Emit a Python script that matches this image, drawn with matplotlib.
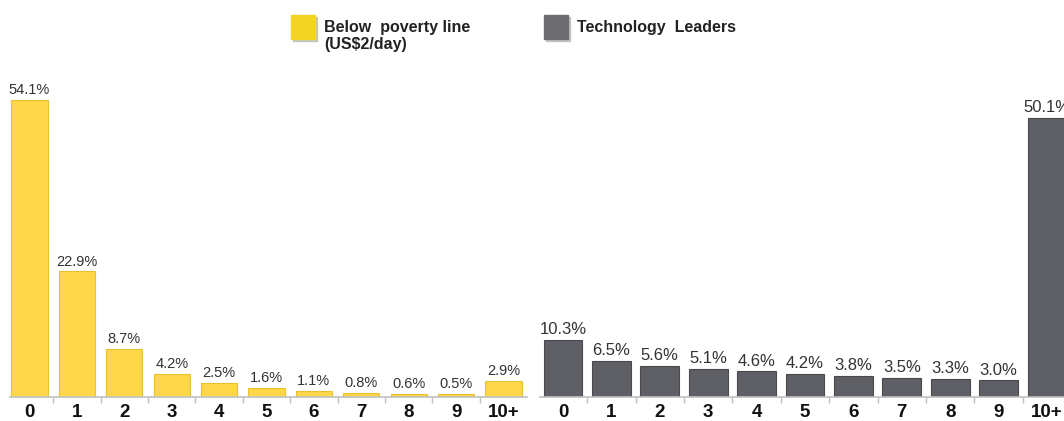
import matplotlib.pyplot as plt
from matplotlib.patches import Rectangle

plt.rcParams['font.family'] = ['Liberation Sans', 'DejaVu Sans']

categories = ['0', '1', '2', '3', '4', '5', '6', '7', '8', '9', '10+']
poverty = [54.1, 22.9, 8.7, 4.2, 2.5, 1.6, 1.1, 0.8, 0.6, 0.5, 2.9]
tech = [10.3, 6.5, 5.6, 5.1, 4.6, 4.2, 3.8, 3.5, 3.3, 3.0, 50.1]

W, H = 1064, 421
fig = plt.figure(figsize=(W / 100, H / 100), dpi=100)

base_y = 397      # pixel row of the baseline


def make_axes(x0, x1, c0, step, px_per_pct):
    ax = fig.add_axes([x0 / W, (H - base_y) / H, (x1 - x0) / W, base_y / H])
    ax.set_xlim((x0 - c0) / step, (x1 - c0) / step)
    ax.set_ylim(0, base_y / px_per_pct)
    for s in ['top', 'right', 'left']:
        ax.spines[s].set_visible(False)
    ax.spines['bottom'].set_color('#c0c0c0')
    ax.spines['bottom'].set_linewidth(1.2)
    ax.set_yticks([])
    ax.patch.set_alpha(0)
    return ax


def draw(ax, values, color, edge, width, fs):
    x = range(len(categories))
    bars = ax.bar(x, values, width=width, color=color, edgecolor=edge, linewidth=0.8)
    for b, v in zip(bars, values):
        ax.annotate(f'{v:.1f}%', (b.get_x() + b.get_width() / 2, v),
                    xytext=(0, 2), textcoords='offset points',
                    ha='center', va='bottom', fontsize=fs, color='#333333')
    ax.set_xticks([i + 0.5 for i in range(len(categories) - 1)])
    ax.set_xticklabels([])
    ax.tick_params(axis='x', direction='out', length=4, color='#c0c0c0', width=1)
    for i, c in enumerate(categories):
        ax.annotate(c, (i, 0), xytext=(0, -11), textcoords='offset points',
                    ha='center', va='center', fontsize=13.5,
                    fontweight='bold', color='#111111', annotation_clip=False)


ax1 = make_axes(10, 527, 29.5, 47.4, 5.49)
draw(ax1, poverty, '#ffd84a', '#e8c030', 0.76, 10.5)

ax2 = make_axes(540, 1100, 563, 48.4, 5.57)
draw(ax2, tech, '#5f6065', '#4a4a4e', 0.8, 12)


# legend
def legend_box(x, y, color, label):
    fig.patches.append(Rectangle(((x + 2) / W, (H - y - 26) / H), 24 / W, 24 / H,
                                 transform=fig.transFigure, color='#aaaaaa', alpha=0.6))
    fig.patches.append(Rectangle((x / W, (H - y - 24) / H), 24 / W, 24 / H,
                                 transform=fig.transFigure, color=color))
    fig.text((x + 33) / W, (H - y - 5) / H, label, ha='left', va='top',
             fontsize=11.5, fontweight='bold', color='#222222', linespacing=1.2)


legend_box(291, 15, '#f5d523', 'Below  poverty line\n(US$2/day)')
legend_box(544, 15, '#6e6e70', 'Technology  Leaders')

fig.savefig('out.png', dpi=100)
